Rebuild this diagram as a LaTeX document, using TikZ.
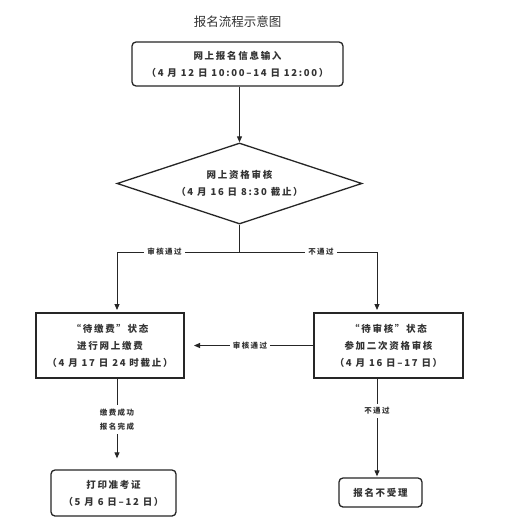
\documentclass[tikz,border=0pt]{standalone}
\usepackage{fontspec}
\setmainfont{Noto Sans CJK SC}
\newfontfamily\spaced[LetterSpace=18]{Noto Sans CJK SC}
\usetikzlibrary{shapes.geometric,arrows.meta}
\begin{document}
\begin{tikzpicture}[x=1pt,y=-1pt,
  boxtext/.style={align=center,text=black!80,font=\spaced\bfseries\fontsize{9.5}{17}\selectfont},
  roundbox/.style={boxtext,draw=black!85,line width=1.3pt,rounded corners=4pt,inner sep=0pt},
  squarebox/.style={boxtext,draw=black!85,line width=2pt,inner sep=0pt},
  lbl/.style={fill=white,inner sep=1.5pt,text=black!80,font=\spaced\bfseries\fontsize{7.5}{14}\selectfont,align=center},
  conn/.style={draw=black!85,line width=1pt},
  arr/.style={conn,-{Triangle[length=6pt,width=5pt]}}]
\useasboundingbox[fill=white] (0,0) rectangle (514,528);
\node[text=black!80,font=\fontsize{12.5}{14}\selectfont] (title) at (237.5,22) {报名流程示意图};
\node[roundbox,minimum width=211pt,minimum height=44pt] (input) at (237.5,64)
  {网上报名信息输入\\（4 月 12 日 10:00–14 日 12:00）};
\node[boxtext,draw=black!85,line width=1.3pt,diamond,aspect=3,inner sep=0pt,
  minimum width=245pt,minimum height=81pt] (check) at (239.5,183.5)
  {网上资格审核\\（4 月 16 日 8:30 截止）};
\node[squarebox,minimum width=148pt,minimum height=65pt] (pay) at (110,345.5)
  {“待缴费”状态\\进行网上缴费\\（4 月 17 日 24 时截止）};
\node[squarebox,minimum width=149pt,minimum height=65pt] (recheck) at (388.5,345.5)
  {“待审核”状态\\参加二次资格审核\\（4 月 16 日–17 日）};
\node[roundbox,minimum width=125pt,minimum height=46pt] (print) at (113.5,493)
  {打印准考证\\（5 月 6 日–12 日）};
\node[roundbox,minimum width=83pt,minimum height=29pt] (reject) at (380.5,492.5)
  {报名不受理};
\coordinate (split) at (239.5,252);
\coordinate (lcorner) at (117,252);
\coordinate (rcorner) at (377,252);
\draw[arr] (input.south -| check.north) -- (check.north);
\draw[conn] (check.south) -- (split);
\draw[arr,shorten >=2pt] (split) -- (lcorner) -- (lcorner |- pay.north);
\node[lbl,inner sep=3pt] (passlbl) at (164.5,252) {审核通过};
\draw[arr,shorten >=2pt] (split) -- (rcorner) -- (rcorner |- recheck.north);
\node[lbl,inner sep=3pt] (faillbl) at (321,252) {不通过};
\draw[arr,shorten >=9pt] (recheck.west) -- (pay.east);
\node[lbl,inner sep=3pt] (pass2lbl) at (250,346) {审核通过};
\draw[arr,shorten >=11pt] (pay.south -| lcorner) -- (print.north -| lcorner);
\node[lbl,inner sep=4pt] (paidlbl) at (117,419.5) {缴费成功\\报名完成};
\draw[arr,shorten >=1pt] (recheck.south -| rcorner) -- (reject.north -| rcorner);
\node[lbl,inner sep=3pt] (fail2lbl) at (377,411) {不通过};
\end{tikzpicture}
\end{document}
